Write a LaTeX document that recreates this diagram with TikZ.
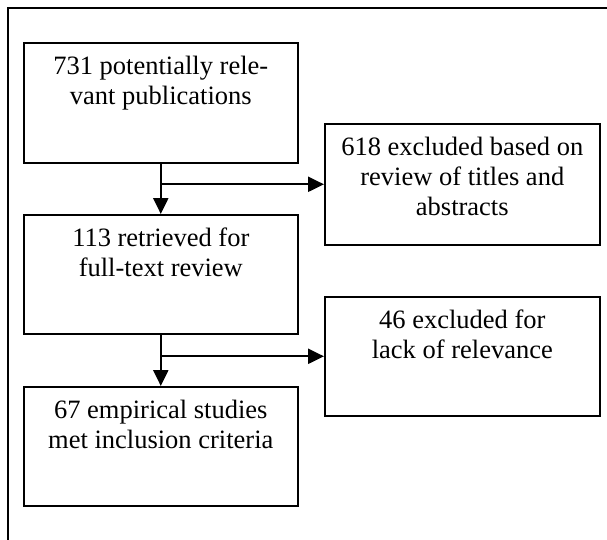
\documentclass[tikz,border=0pt]{standalone}
\usepackage{fontspec}
\setmainfont{Liberation Serif}
\usetikzlibrary{arrows.meta}
\newcommand\bxtext[3]{\parbox[c][#2][t]{#1}{\centering\fontsize{26.5}{30}\selectfont\rule{0pt}{32pt}#3\par}}
\begin{document}
\begin{tikzpicture}[x=1pt,y=-1pt,
  box/.style={draw, line width=1.6pt, inner sep=0pt, anchor=north west},
  conn/.style={line width=2.2pt, -{Triangle[length=16pt,width=15pt]}},
  frameline/.style={line width=1.4pt}]
\useasboundingbox (0,0) rectangle (607,540);
\coordinate (fbl) at (8,545);
\coordinate (ftl) at (8,8);
\coordinate (ftr) at (612,8);
\draw[frameline] (fbl) -- (ftl) -- (ftr);
\node[box] (b1) at (23,42) {\bxtext{274pt}{120pt}{731 potentially rele-\\vant publications}};
\node[box] (b2) at (324,123) {\bxtext{275pt}{121pt}{618 excluded based on\\review of titles and\\abstracts}};
\node[box] (b3) at (23,214) {\bxtext{274pt}{119pt}{113 retrieved for\\full-text review}};
\node[box] (b4) at (324,296) {\bxtext{275pt}{119pt}{46 excluded for\\lack of relevance}};
\node[box] (b5) at (23,386) {\bxtext{274pt}{119pt}{67 empirical studies\\met inclusion criteria}};
\coordinate (j1) at (b1.south |- b2.west);
\coordinate (j2) at (b3.south |- b4.west);
\draw[conn] (b1.south) -- (b3.north);
\draw[conn] (j1) -- (b2.west);
\draw[conn] (b3.south) -- (b5.north);
\draw[conn] (j2) -- (b4.west);
\end{tikzpicture}
\end{document}
